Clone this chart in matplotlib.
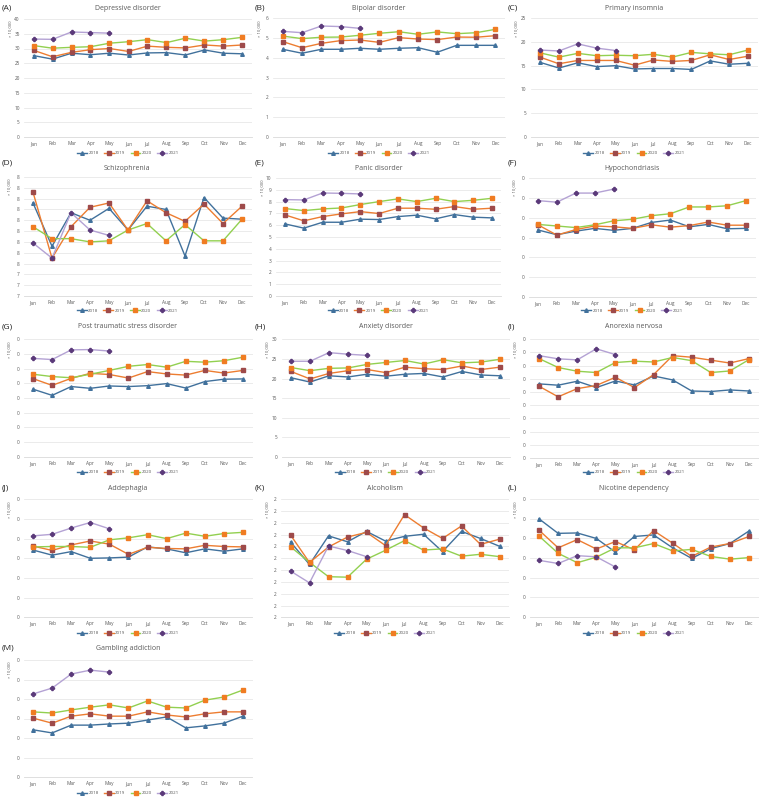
import numpy as np
import matplotlib.pyplot as plt
from matplotlib.lines import Line2D

plt.rcParams['font.family'] = ['Open Sans', 'DejaVu Sans']

W, H = 759, 800
months = ['Jan', 'Feb', 'Mar', 'Apr', 'May', 'Jun', 'Jul', 'Aug', 'Sep', 'Oct', 'Nov', 'Dec']
years = ['2018', '2019', '2020', '2021']

# (A) Depressive disorder
depressive_2018 = [27.6, 26.4, 28.4, 27.9, 28.4, 27.8, 28.5, 28.6, 27.8, 29.5, 28.4, 28.2]
depressive_2019 = [29.4, 27.2, 28.7, 29.6, 30.0, 29.0, 30.8, 30.4, 30.2, 31.2, 30.8, 31.2]
depressive_2020 = [31.0, 30.1, 30.4, 30.6, 31.8, 32.3, 33.0, 32.0, 33.5, 32.5, 33.0, 33.8]
depressive_2021 = [33.2, 33.1, 35.6, 35.4, 35.2]

# (B) Bipolar disorder
bipolar_2018 = [4.43, 4.23, 4.43, 4.43, 4.48, 4.43, 4.48, 4.51, 4.28, 4.63, 4.63, 4.63]
bipolar_2019 = [4.82, 4.51, 4.73, 4.87, 4.90, 4.78, 5.02, 4.95, 4.92, 5.05, 5.04, 5.12]
bipolar_2020 = [5.10, 4.97, 5.04, 5.05, 5.14, 5.24, 5.32, 5.19, 5.31, 5.22, 5.27, 5.44]
bipolar_2021 = [5.34, 5.27, 5.61, 5.58, 5.49]

# (C) Primary insomnia
insomnia_2018 = [15.7, 14.5, 15.6, 14.8, 15.0, 14.3, 14.4, 14.4, 14.2, 16.0, 15.3, 15.5]
insomnia_2019 = [16.8, 15.4, 16.1, 16.1, 16.1, 15.1, 16.2, 15.9, 16.1, 17.3, 16.3, 17.0]
insomnia_2020 = [17.7, 16.8, 17.6, 17.1, 17.2, 17.1, 17.4, 16.8, 17.8, 17.5, 17.3, 18.3]
insomnia_2021 = [18.3, 18.1, 19.6, 18.7, 18.2]

# (D) Schizophrenia
schizo_2018 = [8.06, 7.66, 7.97, 7.90, 8.01, 7.81, 8.03, 8.00, 7.57, 8.11, 7.92, 7.91]
schizo_2019 = [8.16, 7.55, 7.84, 8.02, 8.06, 7.81, 8.08, 7.97, 7.89, 8.05, 7.87, 8.03]
schizo_2020 = [7.84, 7.73, 7.73, 7.70, 7.71, 7.81, 7.87, 7.71, 7.86, 7.71, 7.71, 7.91]
schizo_2021 = [7.69, 7.55, 7.97, 7.81, 7.76]

# (E) Panic disorder
panic_2018 = [6.11, 5.75, 6.25, 6.25, 6.51, 6.48, 6.73, 6.85, 6.54, 6.90, 6.68, 6.62]
panic_2019 = [6.87, 6.37, 6.73, 6.96, 7.15, 6.99, 7.44, 7.44, 7.35, 7.58, 7.35, 7.44]
panic_2020 = [7.41, 7.24, 7.38, 7.46, 7.75, 8.00, 8.23, 8.00, 8.28, 8.00, 8.11, 8.28]
panic_2021 = [8.17, 8.14, 8.73, 8.70, 8.65]

# (F) Hypochondriasis
hypo_2018 = [0.169, 0.157, 0.166, 0.173, 0.168, 0.173, 0.188, 0.194, 0.177, 0.183, 0.172, 0.173]
hypo_2019 = [0.182, 0.156, 0.170, 0.179, 0.177, 0.173, 0.182, 0.176, 0.180, 0.189, 0.181, 0.181]
hypo_2020 = [0.183, 0.179, 0.175, 0.182, 0.192, 0.196, 0.205, 0.210, 0.227, 0.227, 0.230, 0.243]
hypo_2021 = [0.243, 0.239, 0.262, 0.262, 0.272]

# (G) Post traumatic stress disorder
ptsd_2018 = [0.230, 0.209, 0.239, 0.233, 0.241, 0.239, 0.242, 0.249, 0.234, 0.256, 0.264, 0.265]
ptsd_2019 = [0.266, 0.243, 0.267, 0.284, 0.280, 0.268, 0.290, 0.282, 0.278, 0.294, 0.285, 0.294]
ptsd_2020 = [0.281, 0.273, 0.269, 0.281, 0.294, 0.308, 0.314, 0.305, 0.325, 0.322, 0.327, 0.339]
ptsd_2021 = [0.335, 0.331, 0.364, 0.365, 0.360]

# (H) Anxiety disorder
anxiety_2018 = [20.2, 19.1, 20.7, 20.4, 21.1, 20.6, 21.1, 21.3, 20.4, 21.8, 20.9, 20.7]
anxiety_2019 = [21.8, 19.9, 21.3, 22.0, 22.3, 21.5, 22.9, 22.5, 22.3, 23.2, 22.3, 22.9]
anxiety_2020 = [22.8, 22.0, 22.6, 22.7, 23.6, 24.1, 24.6, 23.7, 24.8, 24.0, 24.2, 24.9]
anxiety_2021 = [24.4, 24.4, 26.6, 26.2, 25.9]

# (I) Anorexia nervosa
anorexia_2018 = [0.281, 0.276, 0.291, 0.267, 0.292, 0.277, 0.311, 0.296, 0.254, 0.252, 0.258, 0.254]
anorexia_2019 = [0.272, 0.232, 0.263, 0.275, 0.306, 0.267, 0.316, 0.388, 0.382, 0.371, 0.360, 0.377]
anorexia_2020 = [0.377, 0.343, 0.329, 0.324, 0.362, 0.367, 0.364, 0.381, 0.369, 0.324, 0.330, 0.373]
anorexia_2021 = [0.388, 0.376, 0.372, 0.414, 0.392]

# (J) Addephagia
addephagia_2018 = [0.171, 0.158, 0.167, 0.150, 0.151, 0.153, 0.179, 0.174, 0.164, 0.174, 0.168, 0.174]
addephagia_2019 = [0.181, 0.170, 0.184, 0.194, 0.186, 0.160, 0.178, 0.175, 0.174, 0.183, 0.180, 0.179]
addephagia_2020 = [0.179, 0.180, 0.180, 0.178, 0.197, 0.202, 0.210, 0.200, 0.214, 0.206, 0.213, 0.216]
addephagia_2021 = [0.207, 0.211, 0.227, 0.241, 0.225]

# (K) Alcoholism
alcohol_2018 = [2.219, 2.124, 2.245, 2.220, 2.264, 2.223, 2.243, 2.252, 2.178, 2.264, 2.234, 2.201]
alcohol_2019 = [2.249, 2.132, 2.198, 2.240, 2.260, 2.204, 2.335, 2.279, 2.234, 2.287, 2.209, 2.231]
alcohol_2020 = [2.199, 2.133, 2.072, 2.070, 2.146, 2.184, 2.225, 2.185, 2.190, 2.159, 2.167, 2.157]
alcohol_2021 = [2.096, 2.046, 2.202, 2.183, 2.157]

# (L) Nicotine dependency
nicotine_2018 = [0.250, 0.213, 0.214, 0.200, 0.165, 0.205, 0.209, 0.176, 0.149, 0.174, 0.187, 0.219]
nicotine_2019 = [0.221, 0.176, 0.197, 0.173, 0.192, 0.171, 0.220, 0.188, 0.154, 0.178, 0.187, 0.205]
nicotine_2020 = [0.206, 0.162, 0.138, 0.152, 0.176, 0.176, 0.187, 0.168, 0.172, 0.154, 0.147, 0.151]
nicotine_2021 = [0.144, 0.136, 0.156, 0.153, 0.127]

# (M) Gambling addiction
gambling_2018 = [0.121, 0.113, 0.133, 0.133, 0.136, 0.138, 0.146, 0.154, 0.126, 0.131, 0.138, 0.156]
gambling_2019 = [0.151, 0.138, 0.156, 0.162, 0.156, 0.156, 0.167, 0.159, 0.154, 0.162, 0.167, 0.167]
gambling_2020 = [0.167, 0.164, 0.172, 0.179, 0.185, 0.177, 0.195, 0.179, 0.177, 0.197, 0.205, 0.223]
gambling_2021 = [0.213, 0.228, 0.264, 0.274, 0.269]

# y tick labels as shown (rounded to whole numbers in the source)
ticks_A = [0, 5, 10, 15, 20, 25, 30, 35, 40]
ticks_B = [0, 1, 2, 3, 4, 5, 6]
ticks_C = [0, 5, 10, 15, 20, 25]
ticks_D = [7.2, 7.3, 7.4, 7.5, 7.6, 7.7, 7.8, 7.9, 8.0, 8.1, 8.2, 8.3]
labels_D = ['7', '7', '7', '8', '8', '8', '8', '8', '8', '8', '8', '8']
ticks_E = [0, 1, 2, 3, 4, 5, 6, 7, 8, 9, 10]
ticks_F = [0, 0.05, 0.10, 0.15, 0.20, 0.25, 0.30]
ticks_G = [0, 0.05, 0.10, 0.15, 0.20, 0.25, 0.30, 0.35, 0.40]
ticks_H = [0, 5, 10, 15, 20, 25, 30]
ticks_I = [0, 0.05, 0.10, 0.15, 0.20, 0.25, 0.30, 0.35, 0.40, 0.45]
ticks_J = [0, 0.05, 0.10, 0.15, 0.20, 0.25, 0.30]
ticks_K = [1.90, 1.95, 2.00, 2.05, 2.10, 2.15, 2.20, 2.25, 2.30, 2.35, 2.40]
ticks_L = [0, 0.05, 0.10, 0.15, 0.20, 0.25, 0.30]
ticks_M = [0, 0.05, 0.10, 0.15, 0.20, 0.25, 0.30]

styles = {
    '2018': dict(color='#41719C', marker='^', mfc='#41719C', mec='#41719C', ms=2.6),
    '2019': dict(color='#ED7D31', marker='s', mfc='#9E4A4A', mec='#9E4A4A', ms=2.3),
    '2020': dict(color='#92D050', marker='s', mfc='#F07C22', mec='#F07C22', ms=2.3),
    '2021': dict(color='#B4A2D4', marker='P', mfc='#5B3A7A', mec='#5B3A7A', ms=2.9),
}

# panel: letter, title, series, ticks, tick labels, (left, right, top, bottom) px, title y, legend y
panels = [
    ('(A)', 'Depressive disorder', [depressive_2018, depressive_2019, depressive_2020, depressive_2021],
     ticks_A, None, (24, 252, 19, 137), 8, 153),
    ('(B)', 'Bipolar disorder', [bipolar_2018, bipolar_2019, bipolar_2020, bipolar_2021],
     ticks_B, None, (273, 505, 18.3, 136.7), 8, 153),
    ('(C)', 'Primary insomnia', [insomnia_2018, insomnia_2019, insomnia_2020, insomnia_2021],
     ticks_C, None, (530.5, 757.5, 18.3, 136.7), 8, 153),
    ('(D)', 'Schizophrenia', [schizo_2018, schizo_2019, schizo_2020, schizo_2021],
     ticks_D, labels_D, (23.5, 251.5, 177, 296), 168, 311),
    ('(E)', 'Panic disorder', [panic_2018, panic_2019, panic_2020, panic_2021],
     ticks_E, None, (275.6, 501.4, 178, 296), 168, 311),
    ('(F)', 'Hypochondriasis', [hypo_2018, hypo_2019, hypo_2020, hypo_2021],
     ticks_F, ['0'] * 7, (528.5, 755.5, 178, 297), 168, 311),
    ('(G)', 'Post traumatic stress disorder', [ptsd_2018, ptsd_2019, ptsd_2020, ptsd_2021],
     ticks_G, ['0'] * 9, (23.5, 252.5, 339.3, 456.7), 327, 472),
    ('(H)', 'Anxiety disorder', [anxiety_2018, anxiety_2019, anxiety_2020, anxiety_2021],
     ticks_H, None, (281.5, 509.5, 339.3, 457), 327, 472),
    ('(I)', 'Anorexia nervosa', [anorexia_2018, anorexia_2019, anorexia_2020, anorexia_2021],
     ticks_I, ['0'] * 10, (529.5, 758.5, 339.3, 458), 327, 472),
    ('(J)', 'Addephagia', [addephagia_2018, addephagia_2019, addephagia_2020, addephagia_2021],
     ticks_J, ['0'] * 7, (23.5, 252.5, 499.3, 617.3), 488, 633),
    ('(K)', 'Alcoholism', [alcohol_2018, alcohol_2019, alcohol_2020, alcohol_2021],
     ticks_K, ['2'] * 11, (281, 509, 499.3, 617.3), 488, 633),
    ('(L)', 'Nicotine dependency', [nicotine_2018, nicotine_2019, nicotine_2020, nicotine_2021],
     ticks_L, ['0'] * 7, (529.5, 758.5, 499.3, 616.7), 488, 633),
    ('(M)', 'Gambling addiction', [gambling_2018, gambling_2019, gambling_2020, gambling_2021],
     ticks_M, ['0'] * 7, (23.5, 252.5, 660, 777), 648, 793),
]

fig = plt.figure(figsize=(W / 100, H / 100), dpi=100)
fig.patch.set_facecolor('white')
gray = '#595959'

for letter, title, series, ticks, tlabels, (l, r, t, b), ty, ly in panels:
    ax = fig.add_axes([l / W, 1 - b / H, (r - l) / W, (b - t) / H])
    for yr, vals in zip(years, series):
        ax.plot(np.arange(len(vals)), vals, lw=1.0, **styles[yr], zorder=3)
    ax.set_xlim(-0.5, 11.5)
    ax.set_ylim(ticks[0], ticks[-1])
    ax.set_yticks(ticks)
    if tlabels is not None:
        ax.set_yticklabels(tlabels)
    else:
        ax.set_yticklabels([str(v) for v in ticks])
    ax.set_xticks(range(12))
    ax.set_xticklabels(months)
    ax.grid(axis='y', color='#E3E3E3', lw=0.5, zorder=0)
    for s in ['top', 'left', 'right']:
        ax.spines[s].set_visible(False)
    ax.spines['bottom'].set_color('#D9D9D9')
    ax.spines['bottom'].set_linewidth(0.6)
    ax.tick_params(length=0, labelsize=3.4, colors=gray)
    ax.tick_params(axis='x', pad=3)
    ax.tick_params(axis='y', pad=3)

    cx = (l + r) / 2 - 10
    col_left = 2 if l < 200 else (255 if l < 500 else 508)
    lab_y = 163 if ty == 168 else ty
    fig.text(col_left / W, 1 - lab_y / H, letter, fontsize=6, color='#222222', va='center', ha='left')
    fig.text(cx / W, 1 - ty / H, title, fontsize=5, color=gray, va='center', ha='center')
    fig.text((l - 14) / W, 1 - (t + 10) / H, '× 10,000', fontsize=3, color=gray,
             rotation=90, va='center', ha='center')

    handles = [Line2D([0], [0], lw=1.0, **styles[yr]) for yr in years]
    fig.legend(handles, years, loc='center', bbox_to_anchor=(cx / W, 1 - ly / H), ncol=4,
               fontsize=3.2, frameon=False, handlelength=2.2, handletextpad=0.3,
               columnspacing=1.2, borderpad=0, labelcolor=gray)

fig.savefig('out.png', dpi=100)
